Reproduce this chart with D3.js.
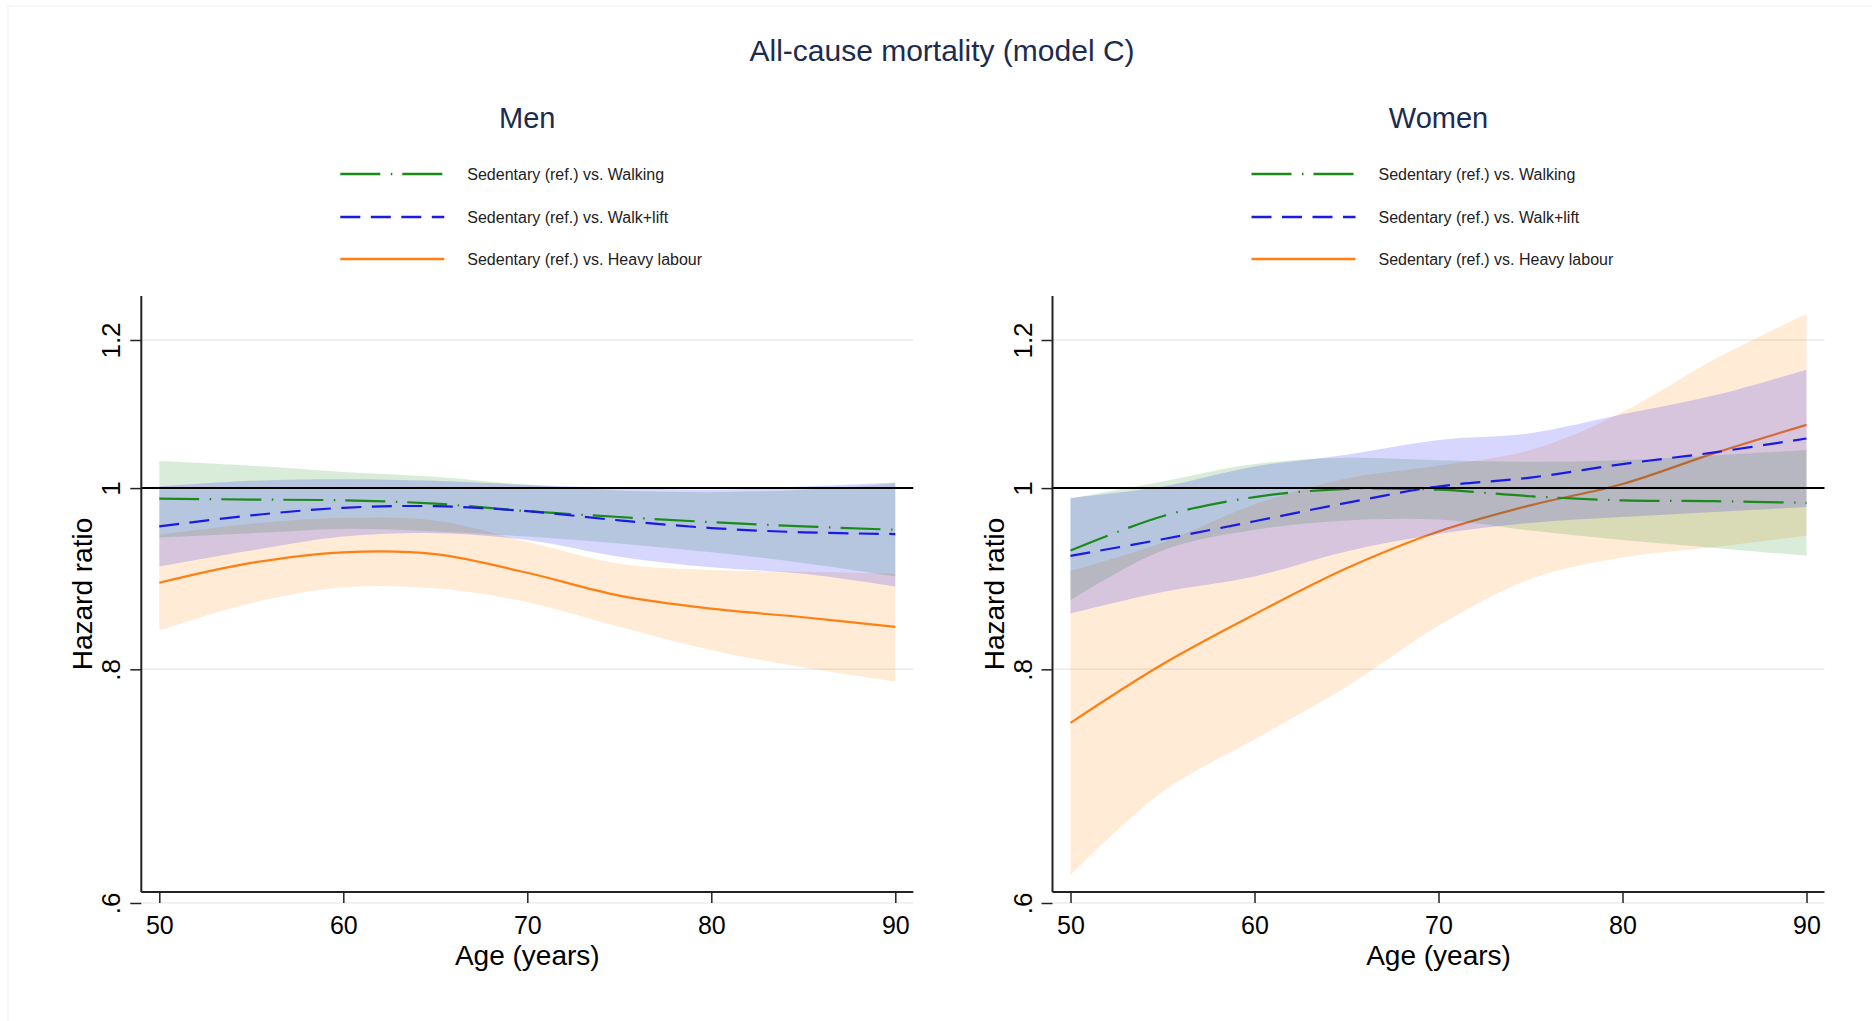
<!DOCTYPE html>
<html>
<head>
<meta charset="utf-8">
<script src="https://cdn.jsdelivr.net/npm/d3@7"></script>
<style>
  body { margin: 0; background: #fff; }
  svg { display: block; }
</style>
</head>
<body>
<svg id="chart" width="1872" height="1021"></svg>
<script>
// ---- data ----
const ages = [50, 55, 60, 65, 70, 75, 80, 85, 90];
const seriesLabels = [
    "Sedentary (ref.) vs. Walking",
    "Sedentary (ref.) vs. Walk+lift",
    "Sedentary (ref.) vs. Heavy labour"
];
const xTicks = [50, 60, 70, 80, 90];
const yTicks = [0.6, 0.8, 1, 1.2];
const yTickLabels = [".6", ".8", "1", "1.2"];

// Men
const menWalking     = [0.987, 0.986, 0.985, 0.981, 0.972, 0.965, 0.959, 0.954, 0.950];
const menWalkingLo   = [0.941, 0.946, 0.951, 0.948, 0.942, 0.934, 0.924, 0.912, 0.897];
const menWalkingHi   = [1.034, 1.028, 1.020, 1.014, 1.004, 0.997, 0.995, 0.998, 1.006];
const menWalkLift    = [0.954, 0.967, 0.976, 0.978, 0.972, 0.961, 0.952, 0.947, 0.945];
const menWalkLiftLo  = [0.908, 0.926, 0.942, 0.946, 0.938, 0.919, 0.907, 0.900, 0.886];
const menWalkLiftHi  = [1.002, 1.009, 1.011, 1.009, 1.004, 1.000, 0.998, 1.002, 1.007];
const menHeavy       = [0.890, 0.912, 0.924, 0.922, 0.901, 0.876, 0.862, 0.853, 0.843];
const menHeavyLo     = [0.839, 0.868, 0.885, 0.884, 0.869, 0.843, 0.819, 0.802, 0.788];
const menHeavyHi     = [0.944, 0.957, 0.964, 0.961, 0.936, 0.911, 0.904, 0.902, 0.900];

// Women
const womenWalking    = [0.926, 0.966, 0.989, 0.999, 0.998, 0.990, 0.985, 0.984, 0.982];
const womenWalkingLo  = [0.871, 0.926, 0.950, 0.961, 0.962, 0.949, 0.938, 0.929, 0.920];
const womenWalkingHi  = [0.987, 1.008, 1.030, 1.038, 1.035, 1.033, 1.035, 1.041, 1.048];
const womenWalkLift   = [0.920, 0.939, 0.960, 0.982, 1.002, 1.013, 1.030, 1.045, 1.063];
const womenWalkLiftLo = [0.857, 0.880, 0.897, 0.925, 0.945, 0.958, 0.965, 0.971, 0.977];
const womenWalkLiftHi = [0.988, 1.002, 1.027, 1.042, 1.061, 1.070, 1.095, 1.121, 1.157];
const womenHeavy      = [0.749, 0.805, 0.856, 0.906, 0.948, 0.979, 1.005, 1.044, 1.081];
const womenHeavyLo    = [0.621, 0.688, 0.734, 0.783, 0.844, 0.894, 0.918, 0.930, 0.943];
const womenHeavyHi    = [0.903, 0.935, 0.980, 1.012, 1.028, 1.048, 1.098, 1.172, 1.239];

// ---- styling ----
const font = '"Liberation Sans", Arial, Helvetica, sans-serif';
const navy = '#1c2b4e';
const styles = [
    { color: '#1a8a1a', dash: '40,10.5,1.5,10', fill: '#008000', alpha: 0.15 },
    { color: '#1a1ae6', dash: '20,10.5',        fill: '#0000ff', alpha: 0.16 },
    { color: '#ff8012', dash: null,             fill: '#ff8000', alpha: 0.16 }
];

const svg = d3.select('#chart').attr('font-family', font);

// faint outer frame
svg.append('rect').attr('x', 8).attr('y', 6).attr('width', 1900).attr('height', 1100)
    .attr('fill', 'none').attr('stroke', '#f0f0f0');

svg.append('text')
    .attr('x', 942).attr('y', 61)
    .attr('text-anchor', 'middle')
    .attr('font-size', 30).attr('fill', navy)
    .text('All-cause mortality (model C)');

function drawPanel(left, title, est, lo, hi) {
    const right = left + 772;
    const x = d3.scaleLinear().domain([50, 90]).range([left + 18, left + 754]);
    const y = d3.scaleLog().domain([0.6, 1.2]).range([903, 340]);
    const g = svg.append('g');

    // grid
    g.selectAll('line.grid').data([0.6, 0.8, 1.2]).join('line')
        .attr('class', 'grid')
        .attr('x1', left).attr('x2', right)
        .attr('y1', d => y(d)).attr('y2', d => y(d))
        .attr('stroke', '#e6eef1').attr('stroke-width', 1.5);

    const area = d3.area()
        .x((d, i) => x(ages[i]))
        .y0(d => y(d[0])).y1(d => y(d[1]))
        .curve(d3.curveCatmullRom);
    const line = d3.line()
        .x((d, i) => x(ages[i]))
        .y(d => y(d))
        .curve(d3.curveCatmullRom);

    const drawBand = k => g.append('path')
        .attr('d', area(ages.map((a, i) => [lo[k][i], hi[k][i]])))
        .attr('fill', styles[k].fill).attr('fill-opacity', styles[k].alpha);
    const drawLine = k => g.append('path')
        .attr('d', line(est[k]))
        .attr('fill', 'none')
        .attr('stroke', styles[k].color).attr('stroke-width', 2.2)
        .attr('stroke-dasharray', styles[k].dash);

    // order: heavy band+line first, then walking/walk+lift bands, then their lines
    drawBand(2); drawLine(2);
    drawBand(0); drawBand(1);
    drawLine(0); drawLine(1);

    // reference line at HR = 1
    g.append('line')
        .attr('x1', left).attr('x2', right)
        .attr('y1', y(1)).attr('y2', y(1))
        .attr('stroke', '#000').attr('stroke-width', 2);

    // x axis
    const xa = g.append('g').attr('transform', 'translate(0,892)')
        .call(d3.axisBottom(x).tickValues(xTicks).tickSize(11).tickSizeOuter(0));
    xa.select('.domain').remove();
    xa.attr('font-family', font).attr('font-size', 25);
    xa.selectAll('.tick line').attr('stroke', '#222').attr('stroke-width', 1.5);
    xa.selectAll('.tick text').attr('fill', '#000').attr('y', 42).attr('dy', null);
    g.append('line').attr('x1', left).attr('x2', right).attr('y1', 892).attr('y2', 892)
        .attr('stroke', '#222').attr('stroke-width', 2);

    // y axis
    const ya = g.append('g').attr('transform', `translate(${left},0)`)
        .call(d3.axisLeft(y).tickValues(yTicks).tickFormat((d, i) => yTickLabels[i])
            .tickSize(11).tickSizeOuter(0));
    ya.select('.domain').remove();
    ya.attr('font-family', font).attr('font-size', 26);
    ya.selectAll('.tick line').attr('stroke', '#222').attr('stroke-width', 1.5);
    ya.selectAll('.tick text')
        .attr('fill', '#000')
        .attr('x', 0).attr('y', -21).attr('dy', null)
        .attr('text-anchor', 'middle')
        .attr('transform', 'rotate(-90)');
    g.append('line').attr('x1', left).attr('x2', left).attr('y1', 296).attr('y2', 892)
        .attr('stroke', '#222').attr('stroke-width', 2);

    // axis titles
    g.append('text')
        .attr('transform', `translate(${left - 49},594) rotate(-90)`)
        .attr('text-anchor', 'middle').attr('font-size', 28).attr('fill', '#000')
        .text('Hazard ratio');
    g.append('text')
        .attr('x', left + 386).attr('y', 965)
        .attr('text-anchor', 'middle').attr('font-size', 28).attr('fill', '#000')
        .text('Age (years)');

    // panel title
    g.append('text')
        .attr('x', left + 386).attr('y', 128)
        .attr('text-anchor', 'middle').attr('font-size', 29).attr('fill', navy)
        .text(title);

    // legend
    const leg = g.selectAll('g.leg').data(seriesLabels).join('g')
        .attr('class', 'leg')
        .attr('transform', (d, i) => `translate(${left + 199},${[174, 217, 259][i]})`);
    leg.append('line')
        .attr('x1', 0).attr('x2', 104).attr('y1', 0).attr('y2', 0)
        .attr('stroke', (d, i) => styles[i].color).attr('stroke-width', 2.6)
        .attr('stroke-dasharray', (d, i) => styles[i].dash);
    leg.append('text')
        .attr('x', 127).attr('y', 6)
        .attr('font-size', 16).attr('fill', '#222')
        .text(d => d);
}

drawPanel(141.3, 'Men',
    [menWalking, menWalkLift, menHeavy],
    [menWalkingLo, menWalkLiftLo, menHeavyLo],
    [menWalkingHi, menWalkLiftHi, menHeavyHi]);

drawPanel(1052.5, 'Women',
    [womenWalking, womenWalkLift, womenHeavy],
    [womenWalkingLo, womenWalkLiftLo, womenHeavyLo],
    [womenWalkingHi, womenWalkLiftHi, womenHeavyHi]);
</script>
</body>
</html>
